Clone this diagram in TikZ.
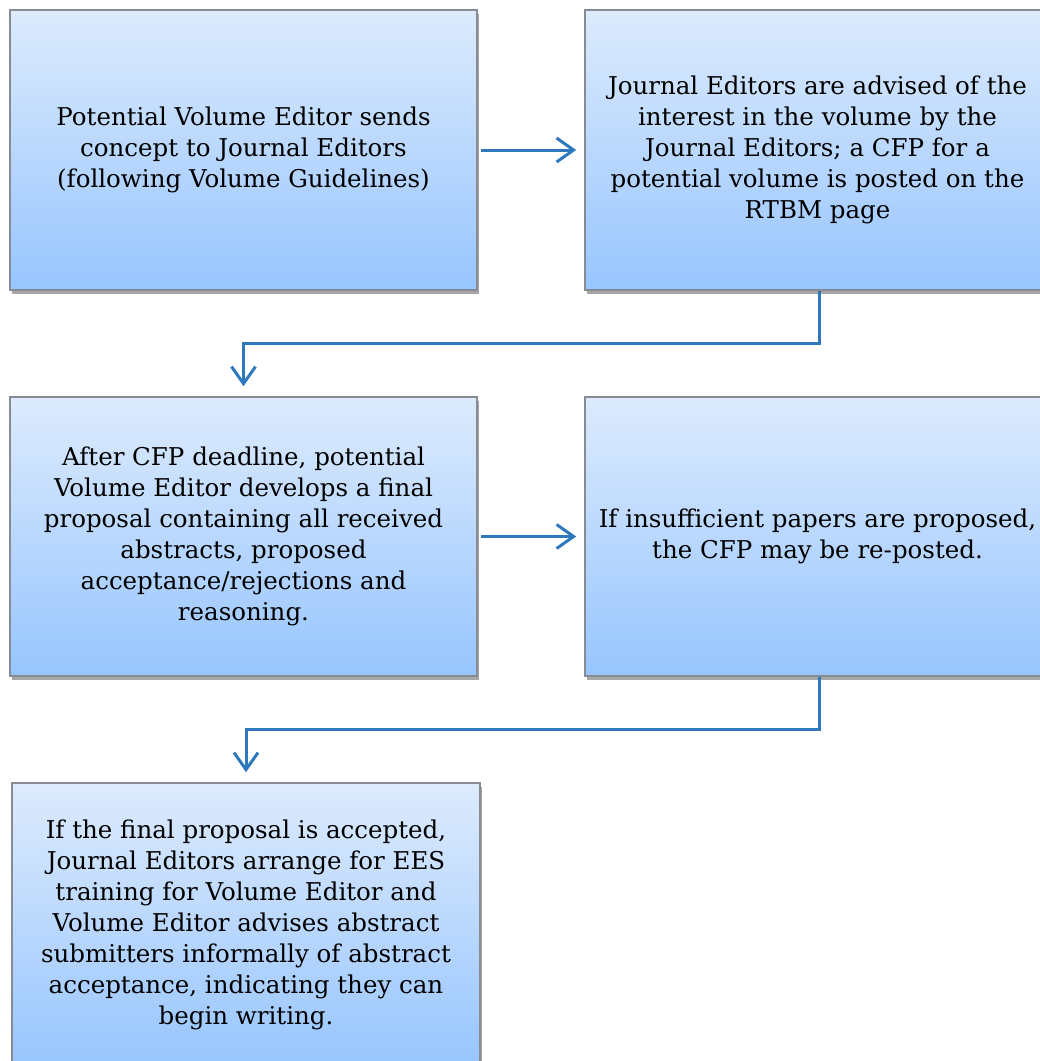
\documentclass[tikz,border=0pt]{standalone}
\usepackage{fontspec}
\setmainfont{DejaVu Serif}
\usetikzlibrary{arrows.meta,shadows}
\definecolor{boxtop}{RGB}{221,235,253}
\definecolor{boxbot}{RGB}{151,197,254}
\definecolor{boxedge}{RGB}{135,140,148}
\definecolor{arrowblue}{RGB}{46,120,190}
\tikzset{
  flowbox/.style={draw=boxedge, line width=1.6pt, top color=boxtop, bottom color=boxbot,
    drop shadow={shadow xshift=1.5pt, shadow yshift=-3.5pt, fill=black, opacity=0.35},
    align=center, inner sep=0pt, font=\fontsize{24.5}{31}\selectfont},
  conn/.style={draw=arrowblue, line width=3pt, -{Straight Barb[length=17pt,width=24pt]}}
}
\begin{document}
\begin{tikzpicture}[x=1pt,y=-1pt]
\useasboundingbox (0,0) rectangle (1040,1061);
\node[flowbox, minimum width=467pt, minimum height=280pt] (b1) at (243.5,150)
  {Potential Volume Editor sends\\concept to Journal Editors\\(following Volume Guidelines)};
\node[flowbox, minimum width=465pt, minimum height=280pt] (b2) at (817.5,150)
  {Journal Editors are advised of the\\interest in the volume by the\\Journal Editors; a CFP for a\\potential volume is posted on the\\RTBM page};
\node[flowbox, minimum width=467pt, minimum height=279pt] (b3) at (243.5,536.5)
  {After CFP deadline, potential\\Volume Editor develops a final\\proposal containing all received\\abstracts, proposed\\acceptance/rejections and\\reasoning.};
\node[flowbox, minimum width=465pt, minimum height=279pt] (b4) at (817.5,536.5)
  {If insufficient papers are proposed,\\the CFP may be re-posted.};
\node[flowbox, minimum width=468pt, minimum height=284pt] (b5) at (246,925)
  {If the final proposal is accepted,\\Journal Editors arrange for EES\\training for Volume Editor and\\Volume Editor advises abstract\\submitters informally of abstract\\acceptance, indicating they can\\begin writing.};
\draw[conn, shorten <=3pt, shorten >=8pt] (b1.east) -- (b2.west);
\draw[conn, shorten <=3pt, shorten >=8pt] (b3.east) -- (b4.west);
\draw[conn, shorten >=10pt] ([xshift=2pt]b2.south) -- ++(0,53) -| (b3.north);
\draw[conn, shorten >=10pt] ([xshift=2pt]b4.south) -- ++(0,53) -| (b5.north);
\end{tikzpicture}
\end{document}
